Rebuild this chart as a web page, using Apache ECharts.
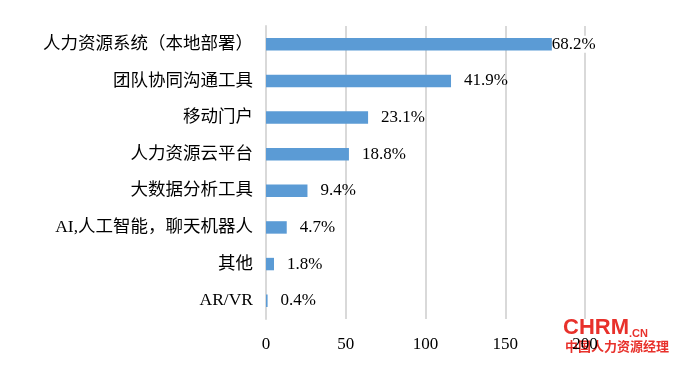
<!DOCTYPE html>
<html><head><meta charset="utf-8">
<script src="https://cdn.jsdelivr.net/npm/echarts@6/dist/echarts.min.js"></script>
<style>html,body{margin:0;padding:0;background:#fff}#c{width:673px;height:368px}</style>
</head><body><div id="c"></div>
<script>
const categories = ['人力资源系统（本地部署）','团队协同沟通工具','移动门户','人力资源云平台','大数据分析工具','AI,人工智能，聊天机器人','其他','AR/VR'];
const counts = [188, 116, 64, 52, 26, 13, 5, 1];
const percentLabels = ['68.2%','41.9%','23.1%','18.8%','9.4%','4.7%','1.8%','0.4%'];
const xTicks = [0, 50, 100, 150, 200];

const FONT = '"Liberation Serif","Noto Sans CJK SC",serif';
const seriesData = counts.map((v, i) => i === 0
  ? {value: v, label: {offset: [-27, 0], backgroundColor: '#fff'}}
  : v);
const chart = echarts.init(document.getElementById('c'), null, {renderer:'canvas'});
chart.setOption({
  animation:false,
  backgroundColor:'#fff',
  grid:{left:266,right:88,top:26,bottom:49,containLabel:false},
  xAxis:{type:'value',min:xTicks[0],max:xTicks[xTicks.length-1],interval:50,
    axisLine:{show:false},axisTick:{show:false},
    splitLine:{show:true,lineStyle:{color:'#D9D9D9',width:2}},
    axisLabel:{color:'#000',fontFamily:FONT,fontSize:17,margin:17}},
  yAxis:{type:'category',inverse:true,data:categories,
    axisLine:{show:true,lineStyle:{color:'#D9D9D9',width:2}},axisTick:{show:false},
    axisLabel:{color:'#000',fontFamily:FONT,fontSize:17.5,margin:13}},
  series:[{type:'bar',data:seriesData,barCategoryGap:'66%',
    itemStyle:{color:'#5B9BD5'},
    label:{show:true,position:'right',distance:13,color:'#000',fontFamily:FONT,fontSize:17,
      formatter:p=>percentLabels[p.dataIndex]}}],
  graphic:[
    {type:'text',left:563,top:317,style:{text:'CHRM',fill:'#E8312B',font:'bold 22px "Liberation Sans",Arial,sans-serif'}},
    {type:'text',left:629,top:328,style:{text:'.CN',fill:'#E8312B',font:'bold 11px "Liberation Sans",Arial,sans-serif'}},
    {type:'text',left:565,top:340,style:{text:'中国人力资源经理',fill:'#E8312B',font:'bold 13px "Noto Sans CJK SC",sans-serif'}}
  ]
});
</script></body></html>
